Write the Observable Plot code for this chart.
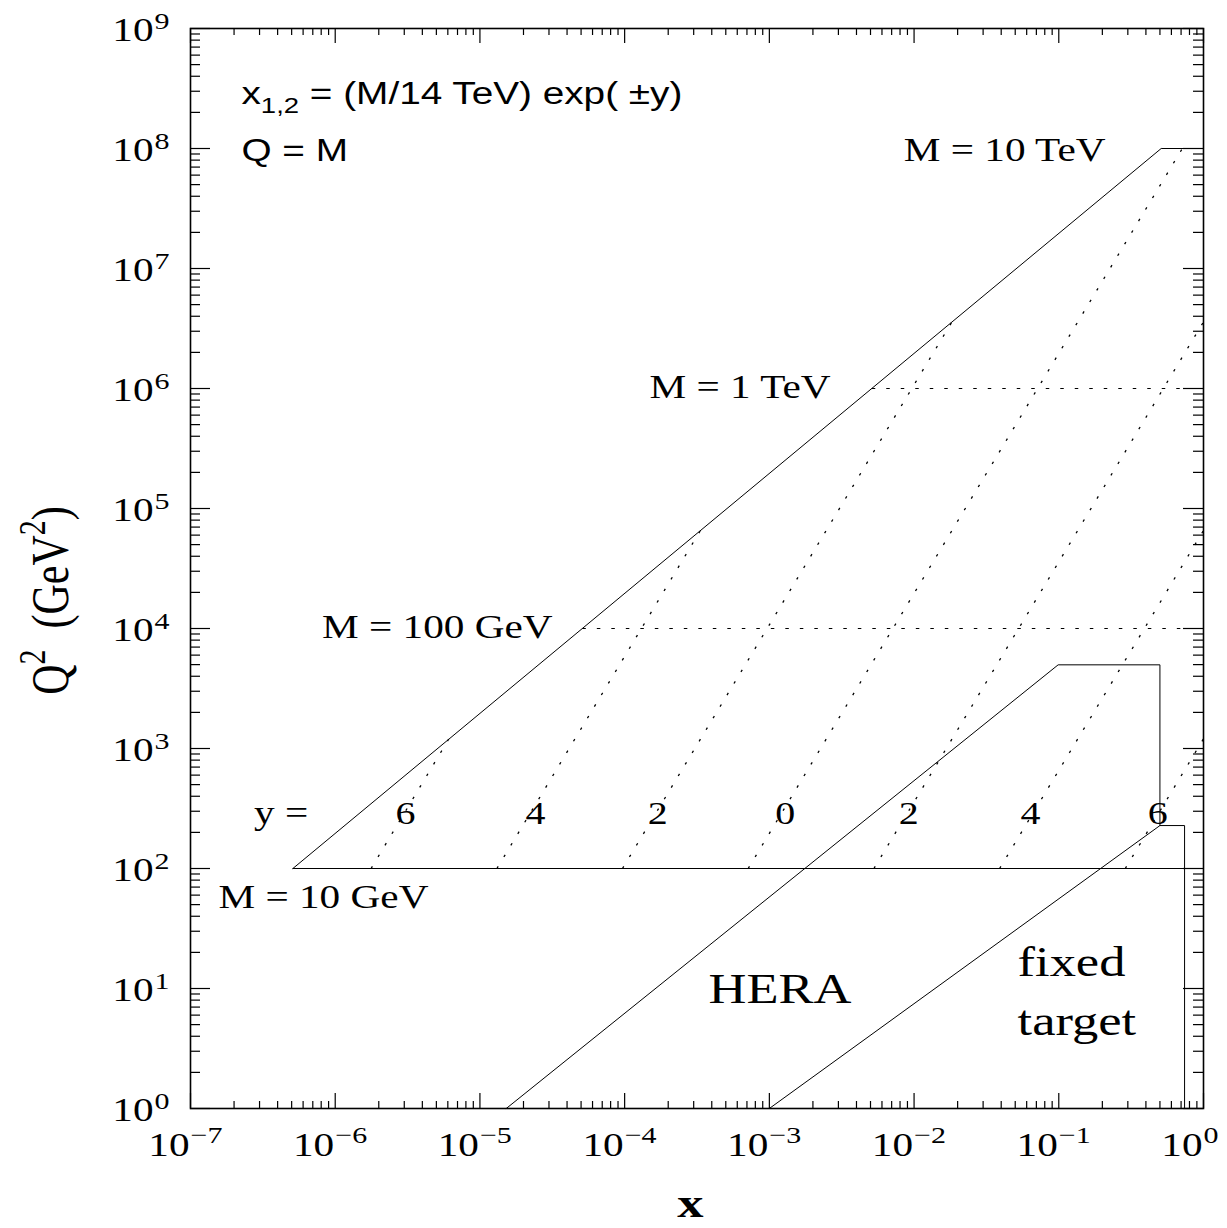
<!DOCTYPE html>
<html>
<head>
<meta charset="utf-8">
<script src="https://cdn.jsdelivr.net/npm/d3@7"></script>
<script src="https://cdn.jsdelivr.net/npm/@observablehq/plot@0.6"></script>
<style>
  body { margin: 0; background: #fff; }
  svg text { white-space: pre; }
</style>
</head>
<body>
<div id="chart"></div>
<script>
// ---------------- data ----------------
const xTickValues = [1e-7, 1e-6, 1e-5, 1e-4, 1e-3, 1e-2, 1e-1, 1];
const xTickExponents = ["−7", "−6", "−5", "−4", "−3", "−2", "−1", "0"];
const yTickValues = [1, 1e1, 1e2, 1e3, 1e4, 1e5, 1e6, 1e7, 1e8, 1e9];
const yTickExponents = ["0", "1", "2", "3", "4", "5", "6", "7", "8", "9"];
const minorMultipliers = [2, 3, 4, 5, 6, 7, 8, 9];

// LHC kinematic limit (Q^2 = x s, capped at M = 10 TeV) and M = 10 GeV floor
const lhcBoundaryX = [5.1e-7, 0.51, 1];
const lhcBoundaryQ2 = [100, 1e8, 1e8];
const lhcFloorX = [5.1e-7, 1];
const lhcFloorQ2 = [100, 100];

// HERA and fixed-target regions
const heraX = [1.52e-5, 0.099, 0.50, 0.50];
const heraQ2 = [1, 4980, 4980, 228];
const fixedTargetX = [1e-3, 0.50, 0.74, 0.74];
const fixedTargetQ2 = [1, 228, 228, 1];

// constant-rapidity lines (y = 6,4,2,0,-2,-4,-6)
const rapidityLabels = ["6", "4", "2", "0", "2", "4", "6"];
const rapidityLowX = [1.77e-6, 1.31e-5, 9.66e-5, 7.14e-4, 5.28e-3, 0.039, 0.288];
const rapidityLowQ2 = [100, 100, 100, 100, 100, 100, 100];
const rapidityHighX = [6.1e-6, 3.35e-4, 0.0183, 0.714, 1, 1, 1];
const rapidityHighQ2 = [1204, 6.6e4, 3.6e6, 1e8, 3.59e6, 6.56e4, 1204];
const rapidityLabelX = [3.06e-6, 2.42e-5, 1.69e-4, 1.29e-3, 9.17e-3, 0.0638, 0.482];
const rapidityLabelQ2 = 233;

// constant-mass dotted lines (M = 100 GeV, M = 1 TeV)
const massLineQ2 = [1e4, 1e6];
const massLineStartX = [5.1e-5, 5.1e-3];
const massLineEndX = [1, 1];

// mass labels
const massLabels = ["M = 10 TeV", "M = 1 TeV", "M = 100 GeV"];
const massLabelX = [0.2104, 2.65e-3, 3.18e-5];
const massLabelQ2 = [7.8e7, 8.26e5, 8410];
const floorLabel = "M = 10 GeV";
const floorLabelX = 1.56e-7;
const floorLabelQ2 = 47.3;

// region labels
const regionLabels = ["HERA", "fixed", "target"];
const regionLabelX = [3.8e-4, 0.0519, 0.0519];
const regionLabelQ2 = [7.5, 12.8, 4.06];

// formula annotation
const formulaLines = ["x_{1,2} = (M/14 TeV) exp( ±y)", "Q = M"];
const formulaX = 2.25e-7;
const formulaQ2 = [2.37e8, 7.94e7];

const rapidityPrefix = "y =";
const rapidityPrefixX = 2.75e-7;

const xLabel = "x";
const xLabelAt = 2.85e-4;
const yLabel = "Q^{2}  (GeV^{2})";

// ---------------- chart ----------------
const serif = "Liberation Serif, Times New Roman, serif";
const sans = "Liberation Sans, Arial, sans-serif";

const W = 1227, H = 1228;
const mL = 190, mR = 24, mT = 28, mB = 120;
const plotW = W - mL - mR, plotH = H - mT - mB;

const xMinor = [];
for (let i = 0; i < xTickValues.length - 1; i++) for (const m of minorMultipliers) xMinor.push(xTickValues[i] * m);
const yMinor = [];
for (let i = 0; i < yTickValues.length - 1; i++) for (const m of minorMultipliers) yMinor.push(yTickValues[i] * m);

const idx7 = d3.range(rapidityLabels.length);
const idxMass = d3.range(massLineQ2.length);

const chart = Plot.plot({
  width: W, height: H,
  marginLeft: mL, marginRight: mR, marginTop: mT, marginBottom: mB,
  style: {background: "#fff", color: "#000"},
  x: {type: "log", domain: [1e-7, 1], axis: null},
  y: {type: "log", domain: [1, 1e9], axis: null},
  marks: [
    // ticks (inward, all four sides)
    Plot.tickX(xTickValues, {x: d => d, insetTop: plotH - 15, strokeWidth: 1.2}),
    Plot.tickX(xTickValues, {x: d => d, insetBottom: plotH - 15, strokeWidth: 1.2}),
    Plot.tickX(xMinor, {x: d => d, insetTop: plotH - 7, strokeWidth: 1.2}),
    Plot.tickX(xMinor, {x: d => d, insetBottom: plotH - 7, strokeWidth: 1.2}),
    Plot.tickY(yTickValues, {y: d => d, insetRight: plotW - 20, strokeWidth: 1.2}),
    Plot.tickY(yTickValues, {y: d => d, insetLeft: plotW - 20, strokeWidth: 1.2}),
    Plot.tickY(yMinor, {y: d => d, insetRight: plotW - 10, strokeWidth: 1.2}),
    Plot.tickY(yMinor, {y: d => d, insetLeft: plotW - 10, strokeWidth: 1.2}),
    Plot.frame({stroke: "#000", strokeWidth: 1.6}),

    // tick labels
    Plot.text(xTickValues, {x: d => d, frameAnchor: "bottom", text: () => "10", textAnchor: "end", lineAnchor: "bottom", dx: -1, dy: 47, fontSize: 33, fontFamily: serif}),
    Plot.text(xTickValues, {x: d => d, frameAnchor: "bottom", text: (d, i) => xTickExponents[i], textAnchor: "start", lineAnchor: "bottom", dx: 0, dy: 34, fontSize: 24, fontFamily: serif}),
    Plot.text(yTickValues, {y: d => d, frameAnchor: "left", text: () => "10", textAnchor: "end", lineAnchor: "bottom", dx: -37, dy: 12, fontSize: 33, fontFamily: serif}),
    Plot.text(yTickValues, {y: d => d, frameAnchor: "left", text: (d, i) => yTickExponents[i], textAnchor: "start", lineAnchor: "bottom", dx: -36, dy: 0, fontSize: 24, fontFamily: serif}),

    // constant-rapidity dotted lines
    Plot.link(idx7, {
      x1: i => rapidityLowX[i], y1: i => rapidityLowQ2[i],
      x2: i => rapidityHighX[i], y2: i => rapidityHighQ2[i],
      stroke: "#000", strokeWidth: 1.3, strokeDasharray: "2.5,11"
    }),
    // constant-mass dotted lines
    Plot.link(idxMass, {
      x1: i => massLineStartX[i], y1: i => massLineQ2[i],
      x2: i => massLineEndX[i], y2: i => massLineQ2[i],
      stroke: "#000", strokeWidth: 1.2, strokeDasharray: "3.5,11"
    }),

    // solid boundaries
    Plot.line(d3.range(lhcBoundaryX.length), {x: i => lhcBoundaryX[i], y: i => lhcBoundaryQ2[i], stroke: "#000", strokeWidth: 1}),
    Plot.line(d3.range(lhcFloorX.length), {x: i => lhcFloorX[i], y: i => lhcFloorQ2[i], stroke: "#000", strokeWidth: 1}),
    Plot.line(d3.range(heraX.length), {x: i => heraX[i], y: i => heraQ2[i], stroke: "#000", strokeWidth: 1}),
    Plot.line(d3.range(fixedTargetX.length), {x: i => fixedTargetX[i], y: i => fixedTargetQ2[i], stroke: "#000", strokeWidth: 1}),

    // rapidity labels
    Plot.text(idx7, {x: i => rapidityLabelX[i], y: () => rapidityLabelQ2, text: i => rapidityLabels[i], textAnchor: "middle", lineAnchor: "bottom", fontSize: 32, fontFamily: serif}),
    Plot.text([rapidityPrefix], {x: () => rapidityPrefixX, y: () => rapidityLabelQ2, text: d => d, textAnchor: "start", lineAnchor: "bottom", fontSize: 33, fontFamily: serif}),

    // mass labels
    Plot.text(d3.range(massLabels.length), {x: i => massLabelX[i], y: i => massLabelQ2[i], text: i => massLabels[i], textAnchor: "end", lineAnchor: "bottom", fontSize: 33, fontFamily: serif}),
    Plot.text([floorLabel], {x: () => floorLabelX, y: () => floorLabelQ2, text: d => d, textAnchor: "start", lineAnchor: "bottom", fontSize: 33, fontFamily: serif}),

    // region labels
    Plot.text(d3.range(regionLabels.length), {x: i => regionLabelX[i], y: i => regionLabelQ2[i], text: i => regionLabels[i], textAnchor: "start", lineAnchor: "bottom", fontSize: 42, fontFamily: serif}),

    // formula
    Plot.text(d3.range(formulaLines.length), {x: () => formulaX, y: i => formulaQ2[i], text: i => formulaLines[i], textAnchor: "start", lineAnchor: "bottom", fontSize: 31, fontFamily: sans}),

    // axis titles
    Plot.text([xLabel], {x: () => xLabelAt, frameAnchor: "bottom", text: d => d, textAnchor: "middle", lineAnchor: "bottom", dy: 108, fontSize: 42, fontWeight: "bold", fontFamily: serif}),
    Plot.text([yLabel], {frameAnchor: "left", text: d => d, rotate: -90, textAnchor: "middle", lineAnchor: "bottom", dx: -123, dy: 32, fontSize: 42, fontFamily: serif})
  ]
});

document.getElementById("chart").appendChild(chart);

// ---------- post-processing: super/subscripts and horizontal stretch ----------
const svgNS = "http://www.w3.org/2000/svg";
function richify(t) {
  const s = t.textContent;
  if (!/[\^_]\{/.test(s)) return false;
  const fs = parseFloat(getComputedStyle(t).fontSize) || 30;
  const small = Math.round(fs * 0.72);
  const parts = s.split(/(\^\{[^}]*\}|_\{[^}]*\})/).filter(p => p.length);
  t.textContent = "";
  let shift = 0;
  for (const p of parts) {
    const ts = document.createElementNS(svgNS, "tspan");
    let target = 0, content = p, size = null;
    if (p.startsWith("^{")) { target = -Math.round(fs * 0.42); content = p.slice(2, -1); size = small; }
    else if (p.startsWith("_{")) { target = Math.round(fs * 0.3); content = p.slice(2, -1); size = small; }
    ts.setAttribute("dy", target - shift);
    shift = target;
    if (size) ts.setAttribute("font-size", size);
    ts.textContent = content;
    t.appendChild(ts);
  }
  return true;
}
chart.querySelectorAll("text").forEach(t => {
  const isYLabel = t.textContent === yLabel;
  richify(t);
  const tr = t.getAttribute("transform") || "";
  if (isYLabel) t.setAttribute("transform", tr + " scale(1,1.25)");
  else t.setAttribute("transform", tr + " scale(1.25,1)");
});
</script>
</body>
</html>
